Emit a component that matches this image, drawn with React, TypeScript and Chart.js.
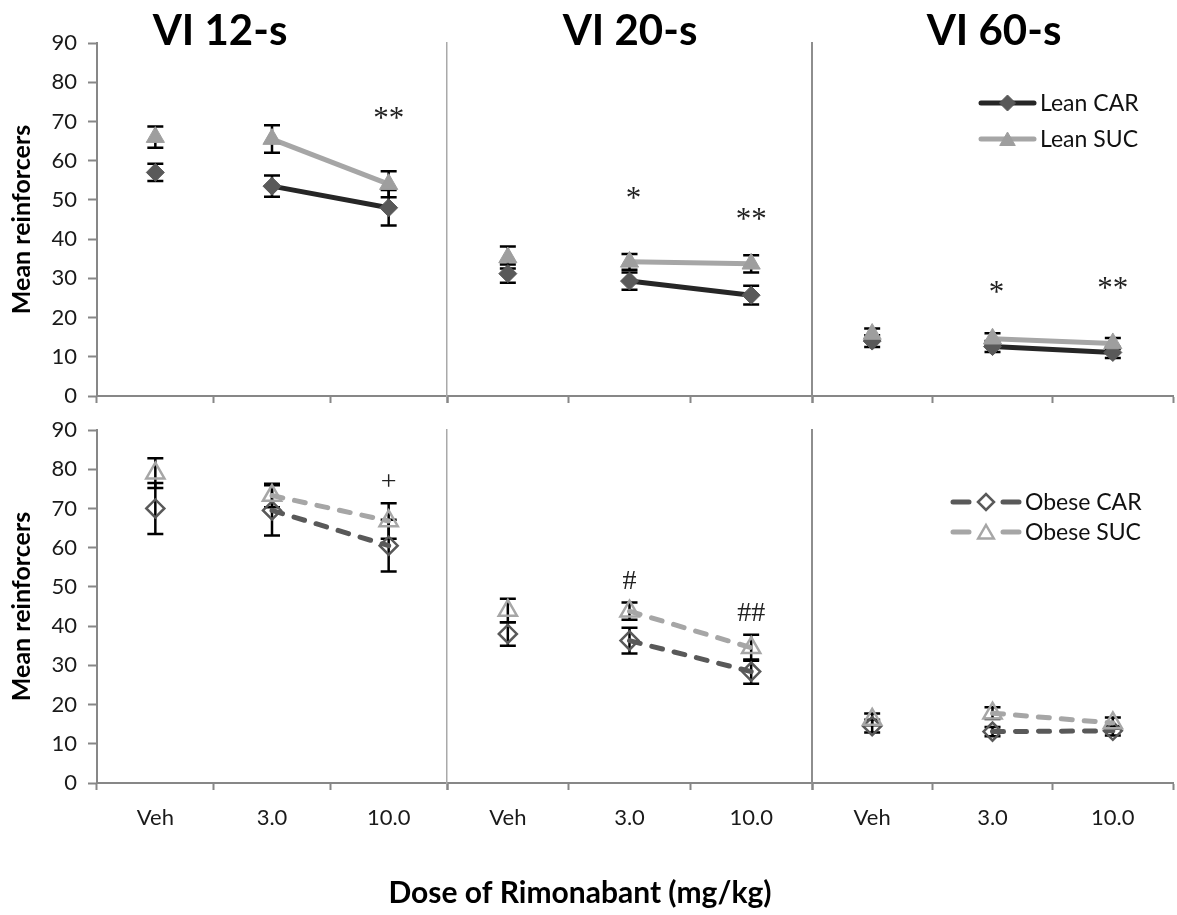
import React, { useEffect, useRef } from 'react';
import { Chart, registerables } from 'chart.js';

Chart.register(...registerables);

// ---------------- data ----------------
const categories = ['Veh', '3.0', '10.0', 'Veh', '3.0', '10.0', 'Veh', '3.0', '10.0'];
const groupTitles = ['VI 12-s', 'VI 20-s', 'VI 60-s'];
const yTickValues = [0, 10, 20, 30, 40, 50, 60, 70, 80, 90];

const leanCar = [57, 53.5, 48, 31.2, 29.3, 25.7, 14, 12.6, 11.1];
const leanCarErr = [2.2, 2.7, 4.5, 2.3, 2.2, 2.4, 1.5, 1.4, 1.4];
const leanSuc = [66, 65.5, 54, 35.3, 34.2, 33.7, 15.8, 14.6, 13.4];
const leanSucErr = [2.7, 3.5, 3.3, 2.8, 2.0, 2.2, 1.4, 1.4, 1.4];

const obeseCar = [70, 69.5, 60.5, 38, 36.3, 28.4, 14.5, 13.1, 13.3];
const obeseCarErr = [6.5, 6.4, 6.6, 3.0, 3.3, 3.1, 1.6, 1.2, 1.2];
const obeseSuc = [79, 73.3, 66.8, 44, 43.8, 34.5, 16.2, 17.8, 15.3];
const obeseSucErr = [3.8, 3.0, 4.5, 3.0, 2.2, 3.3, 1.5, 1.5, 1.4];

const topSigText = ['', '', '**', '', '*', '**', '', '*', '**'];
const topSigValue = [null, null, 72, null, 51.5, 46.2, null, 27.6, 28.6];
const bottomSigText = ['', '', '+', '', '#', '##', '', '', ''];
const bottomSigValue = [null, null, 76.5, null, 51.3, 43.3, null, null, null];

const topLegend = ['Lean CAR', 'Lean SUC'];
const bottomLegend = ['Obese CAR', 'Obese SUC'];

// ---------------- layout / styles ----------------
const FONT = 'Lato, "Open Sans", "DejaVu Sans", sans-serif';
const SERIF = '"Liberation Serif", "DejaVu Serif", serif';
const DARK = '#262626';
const MID = '#595959';
const LIGHT = '#a6a6a6';
const SUCFILL = '#9e9e9e';
const AXIS = '#878787';
const W = 1177;
const TOP_H = 422;
const BOT_TOP = 404;
const BOT_H = 915 - BOT_TOP;
const PANEL_LEFT = [97, 447, 812];
const PANEL_RIGHT = [447, 812, 1173];
const TITLE_X = [220, 630, 994];
const SEP_STYLE = [
  { color: AXIS, width: 2 },
  { color: '#a9a9a9', width: 1.5 },
  { color: '#8e8e8e', width: 2 },
];

const hideSeg = (ctx: any) => (ctx.p0DataIndex % 3 === 1 ? undefined : 'rgba(0,0,0,0)');
const part = (arr: any[], g: number) => arr.slice(g * 3, g * 3 + 3);

function drawMarker(ctx: CanvasRenderingContext2D, kind: string, x: number, y: number, r: number, fill: string | null, stroke: string, lw: number) {
  ctx.beginPath();
  if (kind === 'diamond') {
    ctx.moveTo(x - r, y);
    ctx.lineTo(x, y - r);
    ctx.lineTo(x + r, y);
    ctx.lineTo(x, y + r);
  } else {
    ctx.moveTo(x, y - r);
    ctx.lineTo(x + r * 0.866, y + r * 0.5);
    ctx.lineTo(x - r * 0.866, y + r * 0.5);
  }
  ctx.closePath();
  if (fill) {
    ctx.fillStyle = fill;
    ctx.fill();
  }
  ctx.strokeStyle = stroke;
  ctx.lineWidth = lw;
  ctx.stroke();
}

function errorBarPlugin(errs: number[][]) {
  return {
    id: 'errbars',
    beforeDatasetsDraw(chart: any) {
      const { ctx } = chart;
      const ys = chart.scales.y;
      ctx.save();
      ctx.strokeStyle = '#000';
      ctx.lineWidth = 2.5;
      chart.data.datasets.forEach((ds: any, di: number) => {
        const meta = chart.getDatasetMeta(di);
        ds.data.forEach((v: number, i: number) => {
          const px = meta.data[i].x;
          const t = ys.getPixelForValue(v + errs[di][i]);
          const b = ys.getPixelForValue(v - errs[di][i]);
          ctx.beginPath();
          ctx.moveTo(px, t);
          ctx.lineTo(px, b);
          ctx.moveTo(px - 8, t);
          ctx.lineTo(px + 8, t);
          ctx.moveTo(px - 8, b);
          ctx.lineTo(px + 8, b);
          ctx.stroke();
        });
      });
      ctx.restore();
    },
  };
}

function sigPlugin(texts: string[], values: (number | null)[]) {
  return {
    id: 'sig',
    afterDatasetsDraw(chart: any) {
      const { ctx } = chart;
      const xs = chart.scales.x;
      const ys = chart.scales.y;
      ctx.save();
      ctx.fillStyle = '#222';
      ctx.textAlign = 'center';
      ctx.textBaseline = 'middle';
      texts.forEach((t, i) => {
        const v = values[i];
        if (!t || v == null) return;
        const isStar = t.indexOf('*') >= 0;
        ctx.font = isStar ? `31px ${SERIF}` : `28px ${SERIF}`;
        ctx.fillText(t, xs.getPixelForValue(i) + (t === '*' ? 4 : 0), ys.getPixelForValue(v) + (isStar ? 6 : 0));
      });
      ctx.restore();
    },
  };
}

function legendPlugin(labels: string[], dashed: boolean, ys0: number, gap: number, x1: number, x2: number) {
  return {
    id: 'customLegend',
    afterDraw(chart: any) {
      const { ctx } = chart;
      ctx.save();
      const colors = dashed ? [MID, LIGHT] : [DARK, LIGHT];
      const mfill = dashed ? [null, null] : [MID, SUCFILL];
      const mstroke = dashed ? [MID, LIGHT] : [MID, SUCFILL];
      const kinds = ['diamond', 'triangle'];
      labels.forEach((lab, k) => {
        const y = ys0 + k * gap;
        const cx = (x1 + x2) / 2;
        ctx.strokeStyle = colors[k];
        ctx.lineWidth = 5;
        ctx.lineCap = 'round';
        ctx.beginPath();
        if (dashed) {
          ctx.moveTo(x1 + 3, y);
          ctx.lineTo(x1 + 19, y);
          ctx.moveTo(x2 - 19, y);
          ctx.lineTo(x2 - 3, y);
        } else {
          ctx.moveTo(x1 + 3, y);
          ctx.lineTo(x2 - 3, y);
        }
        ctx.stroke();
        ctx.lineCap = 'butt';
        drawMarker(ctx, kinds[k], cx, y + (k === 1 ? 2 : 0), k === 1 ? 9 : 8, mfill[k], mstroke[k], dashed ? 2.5 : 1);
        ctx.fillStyle = '#111';
        ctx.font = `23px ${FONT}`;
        ctx.textAlign = 'left';
        ctx.textBaseline = 'middle';
        ctx.fillText(lab, x2 + 3, y + 1);
      });
      ctx.restore();
    },
  };
}

function titlePlugin(text: string, x: number) {
  return {
    id: 'groupTitle',
    afterDraw(chart: any) {
      const { ctx } = chart;
      ctx.save();
      ctx.fillStyle = '#000';
      ctx.font = `bold 42px ${FONT}`;
      ctx.textAlign = 'center';
      ctx.textBaseline = 'alphabetic';
      ctx.fillText(text, x, 45);
      ctx.restore();
    },
  };
}

const xTitlePlugin = {
  id: 'xTitle',
  afterDraw(chart: any) {
    const { ctx } = chart;
    ctx.save();
    ctx.fillStyle = '#000';
    ctx.font = `bold 30px ${FONT}`;
    ctx.textAlign = 'center';
    ctx.textBaseline = 'middle';
    ctx.fillText('Dose of Rimonabant (mg/kg)', 580, 893 - BOT_TOP);
    ctx.restore();
  },
};

function panelOptions(g: number, showXLabels: boolean, padTop: number, xHeight: number): any {
  const axisW = g === 0 ? 97 : 10;
  const first = g === 0;
  return {
    responsive: false,
    animation: false,
    events: [],
    layout: {
      autoPadding: false,
      padding: { top: padTop, right: W - PANEL_RIGHT[g], left: PANEL_LEFT[g] - axisW, bottom: 0 },
    },
    plugins: { legend: { display: false }, tooltip: { enabled: false }, title: { display: false } },
    scales: {
      x: {
        type: 'category',
        offset: true,
        grid: {
          offset: true,
          drawOnChartArea: false,
          tickColor: AXIS,
          tickWidth: 2,
          tickLength: 7,
        },
        border: { color: AXIS, width: 2 },
        ticks: {
          display: showXLabels,
          color: '#1a1a1a',
          font: { family: FONT, size: 22 },
          padding: 15,
          maxRotation: 0,
          autoSkip: false,
        },
        afterFit: (s: any) => {
          s.height = xHeight;
        },
      },
      y: {
        min: 0,
        max: 90,
        afterBuildTicks: (s: any) => {
          s.ticks = yTickValues.map((v) => ({ value: v }));
        },
        grid: {
          drawOnChartArea: false,
          drawTicks: first,
          tickLength: 9,
          tickColor: AXIS,
          tickWidth: 2,
        },
        border: { color: SEP_STYLE[g].color, width: SEP_STYLE[g].width },
        ticks: { display: first, color: '#1a1a1a', font: { family: FONT, size: 22 }, padding: 11 },
        title: {
          display: first,
          text: 'Mean reinforcers',
          color: '#000',
          font: { family: FONT, size: 25, weight: 'bold' },
          padding: { top: 7, bottom: 0 },
        },
        afterFit: (s: any) => {
          s.width = axisW;
        },
      },
    },
  };
}

function topDatasets(g: number): any[] {
  return [
    {
      label: topLegend[0],
      data: part(leanCar, g),
      borderColor: DARK,
      borderWidth: 5,
      pointStyle: 'rectRot',
      pointRadius: 9,
      pointBackgroundColor: MID,
      pointBorderColor: MID,
      pointBorderWidth: 1,
      order: 1,
      segment: { borderColor: hideSeg },
    },
    {
      label: topLegend[1],
      data: part(leanSuc, g),
      borderColor: LIGHT,
      borderWidth: 5,
      pointStyle: 'triangle',
      pointRadius: 10.5,
      pointBackgroundColor: SUCFILL,
      pointBorderColor: SUCFILL,
      pointBorderWidth: 1,
      order: 0,
      segment: { borderColor: hideSeg },
    },
  ];
}

function bottomDatasets(g: number): any[] {
  return [
    {
      label: bottomLegend[0],
      data: part(obeseCar, g),
      borderColor: MID,
      borderWidth: 5,
      borderDash: [11, 12],
      borderCapStyle: 'round',
      pointStyle: 'rectRot',
      pointRadius: 9,
      pointBackgroundColor: 'rgba(0,0,0,0)',
      pointBorderColor: MID,
      pointBorderWidth: 2.5,
      order: 1,
      segment: { borderColor: hideSeg },
    },
    {
      label: bottomLegend[1],
      data: part(obeseSuc, g),
      borderColor: LIGHT,
      borderWidth: 5,
      borderDash: [11, 12],
      borderCapStyle: 'round',
      pointStyle: 'triangle',
      pointRadius: 10.5,
      pointBackgroundColor: 'rgba(0,0,0,0)',
      pointBorderColor: LIGHT,
      pointBorderWidth: 2.5,
      order: 0,
      segment: { borderColor: hideSeg },
    },
  ];
}

export default function App() {
  const topRefs = [useRef<HTMLCanvasElement>(null), useRef<HTMLCanvasElement>(null), useRef<HTMLCanvasElement>(null)];
  const botRefs = [useRef<HTMLCanvasElement>(null), useRef<HTMLCanvasElement>(null), useRef<HTMLCanvasElement>(null)];

  useEffect(() => {
    const charts: Chart[] = [];
    [0, 1, 2].forEach((g) => {
      const tp: any[] = [
        errorBarPlugin([part(leanCarErr, g), part(leanSucErr, g)]),
        sigPlugin(part(topSigText, g), part(topSigValue, g)),
        titlePlugin(groupTitles[g], TITLE_X[g]),
      ];
      if (g === 2) tp.push(legendPlugin(topLegend, false, 103, 36, 978, 1037));
      charts.push(
        new Chart(topRefs[g].current as HTMLCanvasElement, {
          type: 'line',
          data: { labels: part(categories, g), datasets: topDatasets(g) } as any,
          options: panelOptions(g, false, 43, TOP_H - 396),
          plugins: tp,
        })
      );

      const bp: any[] = [
        errorBarPlugin([part(obeseCarErr, g), part(obeseSucErr, g)]),
        sigPlugin(part(bottomSigText, g), part(bottomSigValue, g)),
      ];
      if (g === 2) bp.push(legendPlugin(bottomLegend, true, 502 - BOT_TOP, 30, 950, 1022));
      if (g === 1) bp.push(xTitlePlugin);
      charts.push(
        new Chart(botRefs[g].current as HTMLCanvasElement, {
          type: 'line',
          data: { labels: part(categories, g), datasets: bottomDatasets(g) } as any,
          options: panelOptions(g, true, 430 - BOT_TOP, BOT_H - (783 - BOT_TOP)),
          plugins: bp,
        })
      );
    });
    return () => {
      charts.forEach((c) => c.destroy());
    };
  }, []);

  const cStyle = (top: number, h: number): React.CSSProperties => ({ position: 'absolute', left: 0, top, width: W, height: h });

  return (
    <div style={{ position: 'absolute', left: 0, top: 0, width: W, height: 915, background: '#fff', overflow: 'hidden' }}>
      {topRefs.map((r, i) => (
        <canvas key={'t' + i} ref={r} width={W} height={TOP_H} style={cStyle(0, TOP_H)} />
      ))}
      {botRefs.map((r, i) => (
        <canvas key={'b' + i} ref={r} width={W} height={BOT_H} style={cStyle(BOT_TOP, BOT_H)} />
      ))}
    </div>
  );
}
